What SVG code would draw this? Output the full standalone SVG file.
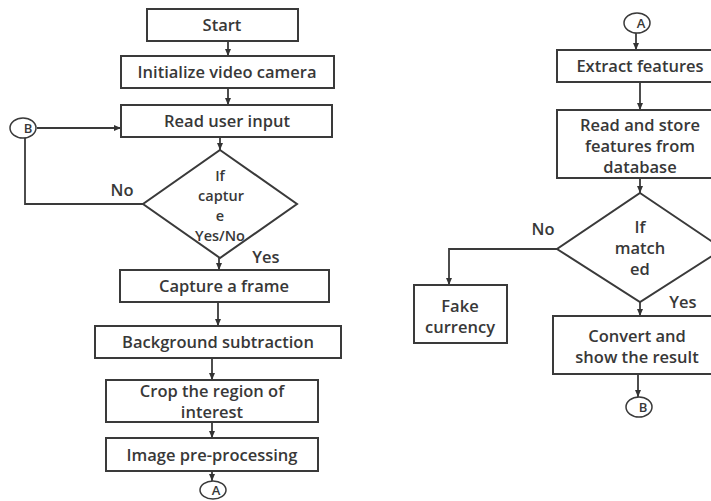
<svg xmlns="http://www.w3.org/2000/svg" width="711" height="501" viewBox="0 0 711 501">
<defs>
<marker id="ah" markerUnits="userSpaceOnUse" markerWidth="8" markerHeight="8" viewBox="0 0 8 8" refX="7" refY="4" orient="auto">
<path d="M0,1 L7,4 L0,7 Z" fill="#333"/>
</marker>
</defs>
<style>
.b{fill:#fff;stroke:#3a3a3a;stroke-width:2}
.k{fill:#fff;stroke:#3a3a3a;stroke-width:1.5}
.c{fill:none;stroke:#3a3a3a;stroke-width:1.8}
.t{font-family:"Open Sans","Noto Sans",sans-serif;font-size:16.5px;font-weight:600;fill:#383838;text-anchor:middle}
.d{font-size:14.5px}
.s{font-size:13px}
</style>
<rect width="711" height="501" fill="#fff"/>
<g id="connectors">
<line class="c" x1="228" y1="41" x2="228" y2="56" marker-end="url(#ah)"/>
<line class="c" x1="228" y1="88" x2="228" y2="105" marker-end="url(#ah)"/>
<line class="c" x1="220" y1="137" x2="220" y2="150" marker-end="url(#ah)"/>
<polyline class="c" points="143,204 25,204 25,138"/>
<line class="c" x1="37" y1="128" x2="121" y2="128" marker-end="url(#ah)"/>
<line class="c" x1="219" y1="258" x2="219" y2="270" marker-end="url(#ah)"/>
<line class="c" x1="218" y1="302" x2="218" y2="326" marker-end="url(#ah)"/>
<line class="c" x1="212" y1="358" x2="212" y2="380" marker-end="url(#ah)"/>
<line class="c" x1="212" y1="422" x2="212" y2="438" marker-end="url(#ah)"/>
<line class="c" x1="212" y1="471" x2="212" y2="481" marker-end="url(#ah)"/>
<line class="c" x1="636" y1="33" x2="636" y2="50" marker-end="url(#ah)"/>
<line class="c" x1="640" y1="82" x2="640" y2="110" marker-end="url(#ah)"/>
<line class="c" x1="640" y1="178" x2="640" y2="193" marker-end="url(#ah)"/>
<polyline class="c" points="557,249 449,249 449,285" marker-end="url(#ah)"/>
<line class="c" x1="640" y1="302" x2="640" y2="316" marker-end="url(#ah)"/>
<line class="c" x1="638" y1="374" x2="638" y2="397" marker-end="url(#ah)"/>
</g>
<g id="start"><rect class="b" x="147" y="9" width="151" height="32"/><text class="t" x="222" y="31">Start</text></g>
<g id="init"><rect class="b" x="121" y="56" width="213" height="32"/><text class="t" x="227" y="78">Initialize video camera</text></g>
<g id="read"><rect class="b" x="121" y="105" width="211" height="32"/><text class="t" x="227" y="127">Read user input</text></g>
<g id="connB1"><ellipse class="k" cx="23" cy="128" rx="13" ry="10"/><text class="t s" x="28" y="133">B</text></g>
<g id="dec1"><polygon class="b" points="220,150 297,204 220,258 143,204"/>
<text class="t d" x="220" y="181">If</text><text class="t d" x="221" y="201">captur</text><text class="t d" x="220" y="221">e</text><text class="t d" x="220" y="241">Yes/No</text></g>
<text class="t" x="122" y="196">No</text>
<text class="t" x="266" y="263">Yes</text>
<g id="capture"><rect class="b" x="120" y="270" width="209" height="32"/><text class="t" x="224" y="292">Capture a frame</text></g>
<g id="bg"><rect class="b" x="95" y="326" width="246" height="32"/><text class="t" x="218" y="348">Background subtraction</text></g>
<g id="crop"><rect class="b" x="106" y="380" width="212" height="42"/><text class="t" x="212" y="397">Crop the region of</text><text class="t" x="212" y="418">interest</text></g>
<g id="pre"><rect class="b" x="106" y="438" width="212" height="33"/><text class="t" x="212" y="461">Image pre-processing</text></g>
<g id="connA1"><ellipse class="k" cx="213" cy="490" rx="13" ry="9"/><text class="t s" x="216" y="495">A</text></g>
<g id="connA2"><ellipse class="k" cx="637" cy="23" rx="13" ry="10"/><text class="t s" x="641" y="28">A</text></g>
<g id="extract"><rect class="b" x="557" y="50" width="167" height="32"/><text class="t" x="640" y="72">Extract features</text></g>
<g id="store"><rect class="b" x="557" y="110" width="167" height="68"/><text class="t" x="640" y="131">Read and store</text><text class="t" x="640" y="152">features from</text><text class="t" x="640" y="173">database</text></g>
<g id="dec2"><polygon class="b" points="640,193 723,249 640,302 557,249"/>
<text class="t" x="640" y="233">If</text><text class="t" x="640" y="254">match</text><text class="t" x="640" y="275">ed</text></g>
<text class="t" x="543" y="235">No</text>
<text class="t" x="683" y="308">Yes</text>
<g id="fake"><rect class="b" x="414" y="285" width="93" height="58"/><text class="t" x="460" y="312">Fake</text><text class="t" x="460" y="333">currency</text></g>
<g id="convert"><rect class="b" x="553" y="316" width="171" height="58"/><text class="t" x="637" y="342">Convert and</text><text class="t" x="637" y="363">show the result</text></g>
<g id="connB2"><ellipse class="k" cx="639" cy="407" rx="13" ry="10"/><text class="t s" x="643" y="412">B</text></g>
</svg>
